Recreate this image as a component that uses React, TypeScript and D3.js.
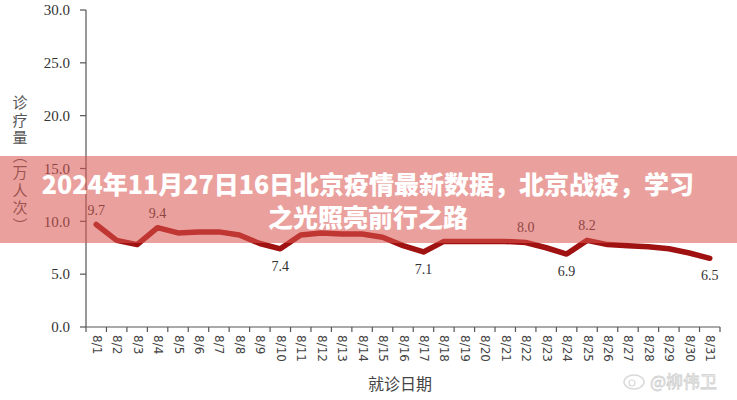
import React from "react";
import * as d3 from "d3";

const categories: string[] = Array.from({ length: 31 }, (_, i) => `8/${i + 1}`);
const values: number[] = [
  9.7, 8.2, 7.8, 9.4, 8.9, 9.0, 9.0, 8.7, 7.9, 7.4,
  8.7, 8.9, 8.8, 8.8, 8.5, 7.7, 7.1, 8.1, 8.1, 8.1,
  8.1, 8.0, 7.5, 6.9, 8.2, 7.8, 7.7, 7.6, 7.4, 7.0,
  6.5,
];
// labelled points: index -> position
const labelIdx: number[] = [0, 3, 9, 16, 21, 23, 24, 30];
const labelPos: string[] = ["above", "above", "below", "below", "above", "below", "above", "below"];
const yTicks: number[] = [0, 5, 10, 15, 20, 25, 30];
const yTitle = "诊疗量（万人次）";
const xTitle = "就诊日期";
const titleLines: string[] = ["2024年11月27日16日北京疫情最新数据，北京战疫，学习", "之光照亮前行之路"];

export default function App() {
  const W = 737, H = 400;
  const left = 86, right = 720, top = 10, bottom = 327;
  const x = d3.scaleBand<string>().domain(categories).range([left, right]).padding(0);
  const y = d3.scaleLinear().domain([0, 30]).range([bottom, top]);
  const cx = (c: string) => (x(c) as number) + x.bandwidth() / 2;
  const line = d3
    .line<number>()
    .x((_, i) => cx(categories[i]))
    .y((d) => y(d))
    .curve(d3.curveLinear);
  const boundaries = d3.range(categories.length + 1).map((i) => left + i * x.bandwidth());
  const serif = "'Liberation Serif', 'DejaVu Serif', serif";
  const cjk = "'Noto Sans CJK SC', sans-serif";

  return (
    <svg width={W} height={H} style={{ position: "absolute", left: 0, top: 0, background: "#fff" }}>
      <rect x={0} y={0} width={W} height={H} fill="#fff" />
      {/* y axis */}
      <line x1={left} x2={left} y1={top} y2={bottom} stroke="#555" strokeWidth={1.2} />
      {yTicks.map((t) => (
        <g key={t}>
          <line x1={left - 6} x2={left} y1={y(t)} y2={y(t)} stroke="#555" strokeWidth={1.2} />
          <text x={70} y={y(t)} dy="0.35em" textAnchor="end" fontFamily={serif} fontSize={15} fill="#333">
            {t.toFixed(1)}
          </text>
        </g>
      ))}
      {/* x axis */}
      <line x1={left} x2={right} y1={bottom} y2={bottom} stroke="#555" strokeWidth={1.2} />
      {boundaries.map((b, i) => (
        <line key={i} x1={b} x2={b} y1={bottom} y2={bottom + 5} stroke="#555" strokeWidth={1.2} />
      ))}
      {categories.map((c) => (
        <text
          key={c}
          transform={`translate(${cx(c)},${bottom + 8}) rotate(90)`}
          textAnchor="start"
          dominantBaseline="middle"
          fontFamily="'DejaVu Sans', sans-serif"
          fontSize={12}
          fill="#444"
        >
          {c}
        </text>
      ))}
      {/* titles */}
      <text
        x={20}
        y={95}
        style={{ writingMode: "vertical-rl" as any }}
        fontFamily={cjk}
        fontSize={15}
        letterSpacing={2.5}
        fill="#555"
      >
        {yTitle}
      </text>
      <text x={400} y={390} textAnchor="middle" fontFamily={cjk} fontSize={16} fill="#444">
        {xTitle}
      </text>
      {/* line */}
      <path d={line(values) || ""} fill="none" stroke="#a01212" strokeWidth={5.5} strokeLinejoin="round" strokeLinecap="round" />
      {labelIdx.map((idx, k) => (
        <text
          key={idx}
          x={cx(categories[idx])}
          y={labelPos[k] === "above" ? y(values[idx]) - 10 : y(values[idx]) + 22}
          textAnchor="middle"
          fontFamily={serif}
          fontSize={14}
          fill="#333"
        >
          {values[idx].toFixed(1)}
        </text>
      ))}
      {/* watermark */}
      <g opacity={0.55}>
        <ellipse cx={634} cy={382} rx={10} ry={7} fill="none" stroke="#bbb" strokeWidth={1.5} />
        <circle cx={632} cy={383} r={3} fill="none" stroke="#bbb" strokeWidth={1.2} />
        <text x={650} y={388} fontFamily={cjk} fontSize={17} fill="#fff" stroke="#aaa" strokeWidth={0.8}>
          @柳伟卫
        </text>
      </g>
      {/* banner */}
      <rect x={0} y={156} width={W} height={87} fill="#d9534f" opacity={0.55} />
      {titleLines.map((t, i) => (
        <text
          key={i}
          x={368}
          y={194 + i * 33}
          textAnchor="middle"
          fontFamily={cjk}
          fontWeight={900}
          fontSize={25}
          fill="#fff"
        >
          {t}
        </text>
      ))}
    </svg>
  );
}
